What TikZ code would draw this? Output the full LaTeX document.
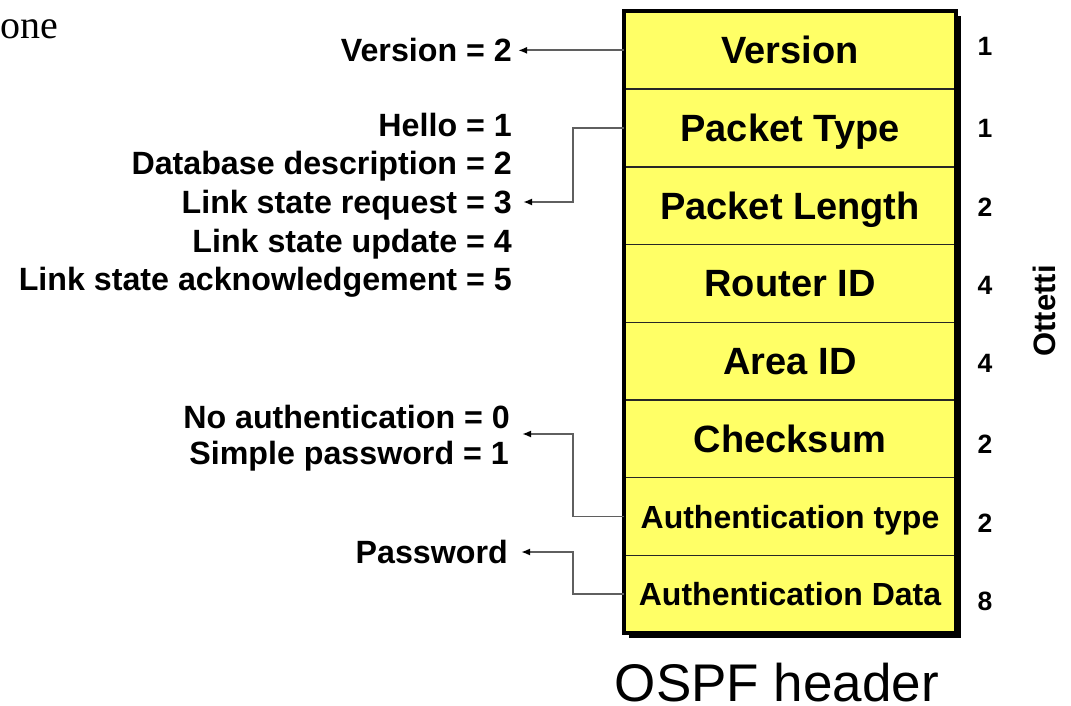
\documentclass[tikz,border=0pt]{standalone}
\usepackage{fontspec}
\setmainfont{Liberation Sans}
\newfontfamily\serifone{Liberation Serif}
\usetikzlibrary{arrows.meta,backgrounds}
\definecolor{boxyellow}{RGB}{255,255,102}
\definecolor{conngray}{RGB}{95,95,95}
\tikzset{
  rowbox/.style={draw=black!85, line width=1.5pt, fill=boxyellow, minimum width=332pt,
    minimum height=77.7pt, inner sep=0pt, outer sep=0pt, text height=27pt, text depth=0pt,
    font=\bfseries\fontsize{38}{40}\selectfont},
  rowsmall/.style={rowbox, text height=23pt, font=\bfseries\fontsize{32}{34}\selectfont},
  lbl/.style={anchor=east, inner sep=0pt, text height=23pt, text depth=0pt,
    font=\bfseries\fontsize{32.2}{34}\selectfont},
  num/.style={inner sep=0pt, text height=19pt, text depth=0pt,
    font=\bfseries\fontsize{26.5}{28}\selectfont},
  conn/.style={draw=conngray, line width=1.8pt, -{Latex[length=9pt,width=7pt,color=black]}}
}
\begin{document}
\begin{tikzpicture}[x=1pt,y=-1pt]
\useasboundingbox (0,0) rectangle (1071,706);
\clip (0,0) rectangle (1071,706);

% cropped leftover text
\node[anchor=base east, inner sep=0pt, font=\serifone\fontsize{40}{44}\selectfont] (one) at (58,39) {one};

% header rows
\node[rowbox] (ver) at (790,50.35) {Version};
\node[rowbox] (ptype) at (790,128.05) {Packet Type};
\node[rowbox] (plen) at (790,205.75) {Packet Length};
\node[rowbox] (rid) at (790,283.45) {Router ID};
\node[rowbox] (aid) at (790,361.15) {Area ID};
\node[rowbox] (csum) at (790,438.85) {Checksum};
\node[rowsmall] (atype) at (790,516.55) {Authentication type};
\node[rowsmall] (adata) at (790,594.25) {Authentication Data};

\begin{scope}[on background layer]
  \fill[black] ([shift={(5,5)}]ver.north west) rectangle ([shift={(5,5)}]adata.south east);
\end{scope}
\draw[line width=4pt] (ver.north west) rectangle (adata.south east);

% octet counts
\node[num] (n1) at (985,46) {1};
\node[num] (n2) at (985,128) {1};
\node[num] (n3) at (985,207) {2};
\node[num] (n4) at (985,285) {4};
\node[num] (n5) at (985,363) {4};
\node[num] (n6) at (985,444) {2};
\node[num] (n7) at (985,523) {2};
\node[num] (n8) at (985,601) {8};
\node[inner sep=0pt, rotate=90, text height=22pt, text depth=0pt,
  font=\bfseries\fontsize{31}{33}\selectfont] (ott) at (1044,311) {Ottetti};

% caption
\node[inner sep=0pt, text height=38pt, text depth=0pt, font=\fontsize{53}{56}\selectfont]
  (cap) at (777,682.5) {OSPF header};

% left labels
\node[lbl] (lver) at (512,50) {Version = 2};
\node[lbl] (lhello) at (512,125) {Hello = 1};
\node[lbl] (ldb) at (512,163.5) {Database description = 2};
\node[lbl] (llsr) at (512,202) {Link state request = 3};
\node[lbl] (llsu) at (512,240.5) {Link state update = 4};
\node[lbl] (llsa) at (512,279) {Link state acknowledgement = 5};
\node[lbl] (lnoauth) at (510,416.5) {No authentication = 0};
\node[lbl] (lsimple) at (509,453) {Simple password = 1};
\node[lbl] (lpass) at (508,552) {Password};

% connectors
\coordinate (tver) at (518,50.35);
\coordinate (tlsr) at (523,202);
\coordinate (tauth) at (522,434);
\coordinate (tpass) at (521,552);
\draw[conn] (ver.west) -- (tver);
\draw[conn] (ptype.west) -- (573,128.05) |- (tlsr);
\draw[conn] (atype.west) -- (573,516.55) |- (tauth);
\draw[conn] (adata.west) -- (573,594.25) |- (tpass);
\end{tikzpicture}
\end{document}
